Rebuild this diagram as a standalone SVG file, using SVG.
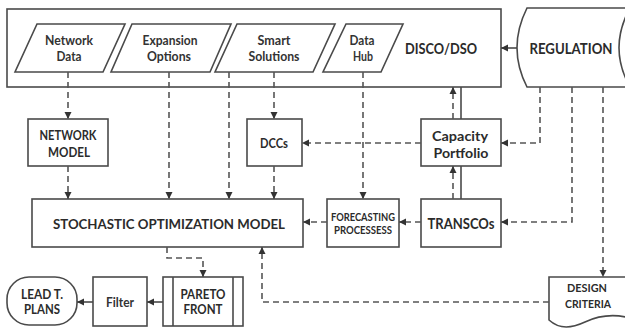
<svg xmlns="http://www.w3.org/2000/svg" width="625" height="331" viewBox="0 0 625 331">
<defs>
<style>
.box{fill:#fff;stroke:#4a4a4a;stroke-width:1.6}
.t{font-family:Lato,"Open Sans","Liberation Sans",sans-serif;font-weight:700;fill:#2b2b2b;text-anchor:middle;dominant-baseline:central}
.r{fill:#333}
.d{fill:none;stroke:#555;stroke-width:1.6;stroke-dasharray:6 4}
.s{fill:none;stroke:#4a4a4a;stroke-width:1.6}
.a{marker-end:url(#ah)}
</style>
<marker id="ah" markerUnits="userSpaceOnUse" markerWidth="8" markerHeight="8" refX="7" refY="4" orient="auto">
<path d="M0,0.5 L7,4 L0,7.5 Z" fill="#333"/>
</marker>
</defs>
<rect width="625" height="331" fill="#fff"/>

<g id="disco">
<rect class="box" x="7" y="9" width="494" height="78"/>
<text class="t" x="441" y="48" font-size="15" textLength="72" lengthAdjust="spacingAndGlyphs">DISCO/DSO</text>
</g>
<g id="network-data">
<path class="box" d="M37,24 H125 L103,72 H15 Z"/>
<text class="t r" x="69" y="40" font-size="12.5" textLength="48" lengthAdjust="spacingAndGlyphs">Network</text>
<text class="t r" x="69" y="56" font-size="12.5" textLength="25" lengthAdjust="spacingAndGlyphs">Data</text>
</g>
<g id="expansion-options">
<path class="box" d="M132,24 H231 L210,72 H111 Z"/>
<text class="t r" x="170" y="40" font-size="12.5" textLength="55" lengthAdjust="spacingAndGlyphs">Expansion</text>
<text class="t r" x="169" y="56" font-size="12.5" textLength="44" lengthAdjust="spacingAndGlyphs">Options</text>
</g>
<g id="smart-solutions">
<path class="box" d="M237,24 H335 L313,72 H215 Z"/>
<text class="t r" x="274" y="40" font-size="12.5" textLength="33" lengthAdjust="spacingAndGlyphs">Smart</text>
<text class="t r" x="274" y="56" font-size="12.5" textLength="51" lengthAdjust="spacingAndGlyphs">Solutions</text>
</g>
<g id="data-hub">
<path class="box" d="M346,24 H403 L381,72 H323 Z"/>
<text class="t r" x="362" y="40" font-size="12.5" textLength="25" lengthAdjust="spacingAndGlyphs">Data</text>
<text class="t r" x="363" y="56" font-size="12.5" textLength="20" lengthAdjust="spacingAndGlyphs">Hub</text>
</g>
<g id="regulation">
<path class="box" d="M527,8 H630 Q608,48 630,87 H527 Q507,48 527,8 Z"/>
<text class="t" x="571" y="48" font-size="15" textLength="83" lengthAdjust="spacingAndGlyphs">REGULATION</text>
</g>
<g id="network-model">
<rect class="box" x="28" y="119" width="80" height="47"/>
<text class="t" x="68" y="135" font-size="12.5" textLength="57" lengthAdjust="spacingAndGlyphs">NETWORK</text>
<text class="t" x="69" y="152" font-size="12.5" textLength="42" lengthAdjust="spacingAndGlyphs">MODEL</text>
</g>
<g id="dccs">
<rect class="box" x="247" y="119" width="55" height="47"/>
<text class="t" x="274" y="143" font-size="13" textLength="28" lengthAdjust="spacingAndGlyphs">DCCs</text>
</g>
<g id="capacity-portfolio">
<rect class="box" x="421" y="119" width="80" height="47"/>
<text class="t" x="460" y="135" font-size="14" textLength="56" lengthAdjust="spacingAndGlyphs">Capacity</text>
<text class="t" x="461" y="152" font-size="14" textLength="55" lengthAdjust="spacingAndGlyphs">Portfolio</text>
</g>
<g id="stochastic-optimization-model">
<rect class="box" x="32" y="199" width="271" height="48"/>
<text class="t" x="169" y="223" font-size="14" textLength="232" lengthAdjust="spacingAndGlyphs">STOCHASTIC OPTIMIZATION MODEL</text>
</g>
<g id="forecasting">
<rect class="box" x="327" y="199" width="72" height="48"/>
<text class="t" x="363" y="217" font-size="10.5" textLength="64" lengthAdjust="spacingAndGlyphs">FORECASTING</text>
<text class="t" x="363" y="230" font-size="10.5" textLength="58" lengthAdjust="spacingAndGlyphs">PROCESSESS</text>
</g>
<g id="transcos">
<rect class="box" x="421" y="199" width="80" height="48"/>
<text class="t" x="461" y="223" font-size="15" textLength="67" lengthAdjust="spacingAndGlyphs">TRANSCOs</text>
</g>
<g id="pareto-front">
<rect class="box" x="163" y="277" width="80" height="49"/>
<path class="s" d="M173,277 V326 M233,277 V326"/>
<text class="t" x="203" y="294" font-size="12.5" textLength="45" lengthAdjust="spacingAndGlyphs">PARETO</text>
<text class="t" x="203" y="309" font-size="12.5" textLength="39" lengthAdjust="spacingAndGlyphs">FRONT</text>
</g>
<g id="filter">
<rect class="box" x="93" y="277" width="54" height="49"/>
<text class="t r" x="120" y="302" font-size="13" textLength="28" lengthAdjust="spacingAndGlyphs">Filter</text>
</g>
<g id="lead-t-plans">
<rect class="box" x="7" y="277" width="70" height="48" rx="22" ry="22"/>
<text class="t" x="42" y="294" font-size="12.5" textLength="42" lengthAdjust="spacingAndGlyphs">LEAD T.</text>
<text class="t" x="42" y="309" font-size="12.5" textLength="36" lengthAdjust="spacingAndGlyphs">PLANS</text>
</g>
<g id="design-criteria">
<path class="box" d="M549,277 H630 V318 C615,314 600,315 585,322 C572,328 560,330 549,320 Z"/>
<text class="t" x="587" y="287" font-size="12" textLength="40" lengthAdjust="spacingAndGlyphs">DESIGN</text>
<text class="t" x="588" y="303" font-size="12" textLength="46" lengthAdjust="spacingAndGlyphs">CRITERIA</text>
</g>

<g id="connectors">
<path class="d a" d="M68,72 V119"/>
<path class="d a" d="M68,166 V199"/>
<path class="d a" d="M169,72 V199"/>
<path class="d a" d="M229,72 V199"/>
<path class="d a" d="M274,72 V119"/>
<path class="d a" d="M274,166 V199"/>
<path class="d a" d="M363,72 V199"/>
<path class="d a" d="M421,143 H302"/>
<path class="d a" d="M453,119 V87"/>
<path class="s" d="M461,119 V87"/>
<path class="d a" d="M453,199 V166"/>
<path class="s" d="M461,199 V166"/>
<path class="s a" d="M517,48 H501"/>
<path class="d a" d="M540,87 V143 H501"/>
<path class="d a" d="M572,87 V222 H501"/>
<path class="d a" d="M603,87 V277"/>
<path class="d a" d="M421,222 H399"/>
<path class="d a" d="M327,222 H303"/>
<path class="d a" d="M167,247 V258 H203 V277"/>
<path class="s a" d="M163,302 H147"/>
<path class="s a" d="M93,302 H77"/>
<path class="d a" d="M549,302 H262 V247"/>
</g>
</svg>
